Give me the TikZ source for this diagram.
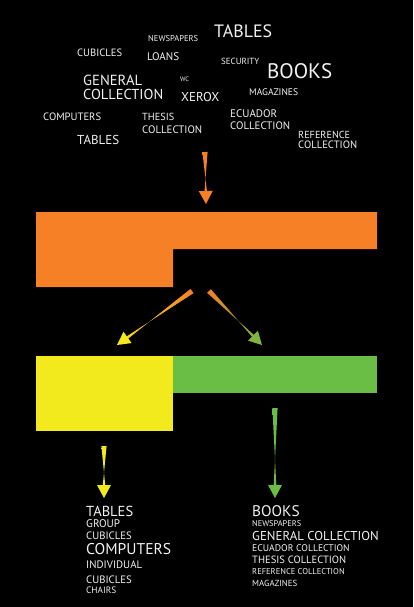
\documentclass[tikz,border=0pt]{standalone}
\usepackage{fontspec}
\setmainfont{PT Sans}
\usepackage{graphicx}
\usepackage{tikz}
\usetikzlibrary{calc}
\definecolor{Flame}{HTML}{F58025}
\definecolor{Lemon}{HTML}{F2EA1D}
\definecolor{Leaf}{HTML}{6ABD45}
\definecolor{Paper}{HTML}{F2F2F2}
\newcommand{\fitword}[2]{\resizebox{#1pt}{!}{#2}}
\tikzset{
  word/.style={text=Paper,inner sep=0pt,anchor=west},
}

\begin{document}
\begin{tikzpicture}[x=1pt,y=-1pt]
        \fill[black] (0,0) rectangle (413,607);
        \useasboundingbox (0,0) rectangle (413,607);
        % word cloud (x, y, width)
        \foreach \x/\y/\w/\txt [count=\i] in {
            214/31/58/TABLES, 148/39/50/NEWSPAPERS, 77/53/45/CUBICLES,
            147/57/32/LOANS, 221/61/38/SECURITY, 267/71/65/BOOKS,
            83/80.5/59/GENERAL, 83/94.5/80/COLLECTION, 180/79/9/WC, 181/97/38/XEROX,
            249/92/49/MAGAZINES, 43/117/58/COMPUTERS,
            142/117/32/THESIS, 142/130/60/COLLECTION, 230/114/47/ECUADOR, 230/126/60/COLLECTION,
            77/140/42/TABLES, 298/134.5/52/REFERENCE, 298/144.5/59/COLLECTION}{
          \node[word] (cloud\i) at (\x,\y) {\fitword{\w}{\txt}};
        }
        % blocks
        \fill[Flame] (36,212) -- (377,212) -- (377,249) -- (173,249) -- (173,287) -- (36,287) -- cycle;
        \fill[Lemon] (36,356) rectangle (173,431);
        \fill[Leaf] (173,356) rectangle (377,393);
        % arrow ends
        \coordinate (in0) at (205,152);   \coordinate (in1) at (206,204);
        \coordinate (tl0) at (192,291);   \coordinate (tl1) at (117,345);
        \coordinate (tr0) at (209,291);   \coordinate (tr1) at (262,345);
        \coordinate (yl0) at (104,446);   \coordinate (yl1) at (104,498);
        \coordinate (gr0) at (275,408);   \coordinate (gr1) at (275,498);
        \foreach \a/\ca/\cb/\ch in {in/Flame/Flame/Flame, tl/Flame/Lemon!90!Flame/Lemon,
            tr/Flame/Leaf!80!Flame/Leaf!85!Flame, yl/Lemon/Lemon/Lemon, gr/Leaf/Leaf/Leaf}{
          \coordinate (\a b) at ($(\a1)!11pt!(\a0)$);
          \coordinate (\a h) at ($(\a1)!13pt!(\a0)$);
          \shade[top color=\ca,bottom color=\cb]
            ($(\a0)!2.6pt!90:(\a1)$) -- ($(\a b)!1.4pt!-90:(\a1)$)
            -- ($(\a b)!1.4pt!90:(\a1)$) -- ($(\a0)!2.6pt!-90:(\a1)$) -- cycle;
          \fill[\ch] (\a1) -- ($(\a h)!7pt!90:(\a1)$) -- ($(\a h)!7pt!-90:(\a1)$) -- cycle;
        }
        % lists
        \foreach \x/\y/\w/\txt [count=\i] in {
            86/511.5/47/TABLES, 86/524/34/GROUP, 86/535.5/45.5/CUBICLES, 86/549/85/COMPUTERS,
            86/565/56/INDIVIDUAL, 86/580/45.5/CUBICLES, 86/590.5/30/CHAIRS,
            252/511/47.5/BOOKS, 252/523.5/49/NEWSPAPERS, 252/536/126.5/GENERAL COLLECTION,
            252/548/97.5/ECUADOR COLLECTION, 252/560/94/THESIS COLLECTION,
            252/572/92.5/REFERENCE COLLECTION, 252/583/45/MAGAZINES}{
          \node[word] (list\i) at (\x,\y) {\fitword{\w}{\txt}};
        }
      \end{tikzpicture}
\end{document}
